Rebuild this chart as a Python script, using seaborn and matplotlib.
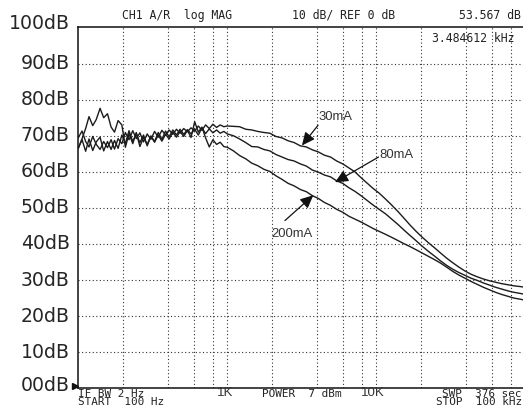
import numpy as np
import pandas as pd
import matplotlib
matplotlib.use("Agg")
import matplotlib.pyplot as plt
import matplotlib.transforms as mtransforms
import seaborn as sns

# Sweep frequencies (Hz), 100 Hz .. 100 kHz
freq_hz = [
    100, 106, 112, 118, 125, 132, 140, 148, 157, 166, 175, 185, 196, 207,
    219, 232, 245, 259, 274, 290, 307, 325, 344, 364, 385, 407, 431, 456,
    482, 510, 540, 571, 604, 639, 676, 715, 757, 801, 847, 896, 948, 1000,
    1100, 1210, 1330, 1460, 1600, 1760, 1930, 2120, 2330, 2560, 2810, 3090,
    3390, 3720, 4090, 4490, 4930, 5420, 5950, 6540, 7180, 7890, 8660, 9510,
    10450, 11500, 12600, 13900, 15300, 16800, 18500, 20300, 22300, 24500,
    27000, 29600, 32600, 35800, 39400, 43300, 47600, 52300, 57500, 63200,
    69500, 76400, 84000, 92300, 100000,
]

# Measured magnitude (dB) for each drive current
mag_30ma = [
    69.5, 71.3, 68.4, 66.9, 69.8, 67.6, 66.2, 68.4, 66.7, 68.9, 66.3, 69.2,
    67.8, 70.9, 68.9, 71.4, 69.2, 70.8, 68.3, 70.5, 69.0, 71.2, 69.6, 71.5,
    70.2, 71.6, 70.4, 71.8, 70.7, 72.0, 71.1, 72.2, 71.3, 72.7, 71.5, 73.0,
    72.0, 73.2, 72.3, 73.0, 72.5, 72.7,
    72.6, 72.5, 71.8, 71.6, 71.2, 70.9, 70.7, 69.8, 69.4, 68.6, 68.1, 67.2,
    66.9, 66.1, 65.5, 64.6, 64.1, 63.0, 62.2, 61.1, 60.0, 58.4, 56.9, 55.4,
    54.1, 52.5, 50.9, 49.1, 47.2, 45.3, 43.5, 41.9, 40.4, 39.0,
    37.5, 36.1, 34.8, 33.6, 32.5, 31.6, 30.9, 30.3, 29.8, 29.4,
    29.0, 28.7, 28.4, 28.2, 28.0,
]
mag_80ma = [
    66.6, 68.9, 65.7, 69.1, 65.9, 68.3, 69.6, 65.8, 68.4, 66.2, 68.7, 66.5,
    70.2, 67.9, 71.4, 68.4, 70.6, 68.1, 70.2, 67.2, 69.9, 68.4, 70.9, 69.0,
    71.3, 69.7, 71.6, 70.2, 71.8, 70.4, 71.7, 70.5, 71.8, 70.2, 72.2, 70.6,
    71.9, 70.8, 71.6, 70.7, 71.2, 70.5,
    70.0, 69.1, 68.1, 67.0, 66.9, 66.2, 65.8, 64.8, 64.1, 63.4, 63.0, 62.2,
    61.6, 60.5, 59.9, 59.1, 58.6, 57.5, 56.8, 55.6, 54.6, 53.4, 52.1, 50.8,
    49.6, 48.4, 47.0, 45.5, 43.9, 42.4, 40.9, 39.4, 38.0, 36.7,
    35.3, 34.1, 33.0, 32.1, 31.3, 30.5, 29.9, 29.2, 28.6, 28.0,
    27.5, 27.0, 26.6, 26.3, 26.0,
]
mag_200ma = [
    66.5, 69.2, 72.0, 75.3, 72.8, 74.5, 77.6, 75.0, 76.1, 72.4, 71.0, 74.2,
    73.0, 66.8, 70.6, 67.8, 70.9, 67.0, 69.6, 67.6, 69.9, 68.2, 70.2, 68.5,
    70.4, 69.1, 71.0, 69.6, 71.2, 69.8, 71.5, 69.5, 73.9, 71.0, 72.4, 69.4,
    66.9, 68.9, 67.6, 68.2, 67.0, 66.8,
    65.8, 64.5, 63.6, 62.4, 61.7, 60.7, 60.1, 58.9, 57.9, 56.8, 56.1, 55.1,
    54.5, 53.4, 52.6, 51.5, 50.7, 49.6, 48.8, 47.7, 46.9, 46.1, 45.2, 44.3,
    43.5, 42.7, 41.9, 41.0, 40.1, 39.3, 38.4, 37.5, 36.6, 35.7,
    34.7, 33.6, 32.4, 31.4, 30.5, 29.6, 28.8, 28.0, 27.3, 26.6,
    26.0, 25.5, 25.0, 24.7, 24.4,
]

series_names = ["30mA", "80mA", "200mA"]

# Annotation anchors: (label centre, arrow tail, arrow head) in (Hz, dB)
label_pos = {"30mA": (5285, 75.3), "80mA": (13550, 64.8), "200mA": (2718, 42.9)}
arrow_tail = {"30mA": (4064, 72.9), "80mA": (10350, 64.1), "200mA": (2438, 46.5)}
arrow_head = {"30mA": (3170, 67.3), "80mA": (5285, 57.1), "200mA": (3776, 53.5)}

y_levels = list(range(0, 101, 10))
y_labels = ["00dB", "10dB", "20dB", "30dB", "40dB", "50dB", "60dB",
            "70dB", "80dB", "90dB", "100dB"]
x_grid = [200, 400, 600, 800, 1000, 2000, 4000, 6000, 8000, 10000,
          20000, 40000, 60000, 80000]

df = pd.DataFrame({
    "freq": freq_hz * 3,
    "mag": mag_30ma + mag_80ma + mag_200ma,
    "trace": [n for n in series_names for _ in freq_hz],
})

sns.set_style("white")
W, H = 523, 413
fig = plt.figure(figsize=(W / 100, H / 100), dpi=100)
ax = fig.add_axes([78.3 / W, (H - 388.3) / H, 447 / W, 360.8 / H])

sns.lineplot(data=df, x="freq", y="mag", hue="trace", estimator=None,
             palette=["#1c1c1c", "#1c1c1c", "#1c1c1c"], linewidth=1.0,
             legend=False, ax=ax, sort=False)

ax.set_xscale("log")
ax.set_xlim(100, 100000)
ax.set_ylim(0, 100)
ax.set_xticks(x_grid)
ax.set_yticks(y_levels[1:-1])
ax.minorticks_off()
ax.set_xticklabels([])
ax.set_yticklabels([])
ax.tick_params(length=0)
ax.set_xlabel("")
ax.set_ylabel("")
ax.grid(True, color="#333333", linestyle=(0, (1, 2.2)), linewidth=0.8)
for s in ax.spines.values():
    s.set_visible(True)
    s.set_color("#111111")
    s.set_linewidth(1.1)

# dB scale labels to the left of the graticule
ylab_tr = mtransforms.blended_transform_factory(fig.transFigure, ax.transData)
for lvl, lab in zip(y_levels, y_labels):
    dy = 0
    if lvl == 100:
        dy = 4
    elif lvl == 0:
        dy = 3
    ax.text(70 / W, lvl, lab,
            transform=ylab_tr + mtransforms.ScaledTranslation(0, dy / 100, fig.dpi_scale_trans),
            ha="right", va="center", fontsize=13.6, color="#262626",
            family="DejaVu Sans", clip_on=False)
# reference level marker
ax.plot([75 / W], [0.7], transform=ylab_tr, marker=">", markersize=4.5,
        color="#111111", clip_on=False)

# trace annotations
for name in series_names:
    ax.annotate("", xy=arrow_head[name], xytext=arrow_tail[name],
                arrowprops=dict(arrowstyle="-|>,head_length=0.6,head_width=0.28",
                                color="#111111", lw=0.9, mutation_scale=13,
                                shrinkA=0, shrinkB=0))
    ax.text(*label_pos[name], name, ha="center", va="center",
            fontsize=9.4, color="#333333", family="Liberation Sans")

# instrument status text
def px_text(x, y, s, ha="left", size=8.3, fam="DejaVu Sans Mono",
            color="#222222", **kw):
    fig.text(x / W, 1 - y / H, s, ha=ha, va="center", fontsize=size,
             family=fam, color=color, **kw)

px_text(122, 15.5, "CH1 A/R  log MAG")
px_text(292, 15.5, "10 dB/ REF 0 dB")
px_text(521, 15.5, "53.567 dB", ha="right")
px_text(515, 39, "3.484612 kHz", ha="right")

px_text(78, 398, "IF BW 2 Hz\nSTART  100 Hz", size=7.9, linespacing=0.64)
px_text(217, 393.5, "1K", size=9.5, fam="Liberation Sans", color="#333333")
px_text(262, 394, "POWER  7 dBm", size=7.9)
px_text(361, 393.5, "10K", size=9.5, fam="Liberation Sans", color="#333333")
px_text(522, 398, "SWP  376 sec\nSTOP  100 kHz", ha="right", size=7.9,
        linespacing=0.64, multialignment="right")

fig.savefig("out.png", dpi=100, facecolor="white")
